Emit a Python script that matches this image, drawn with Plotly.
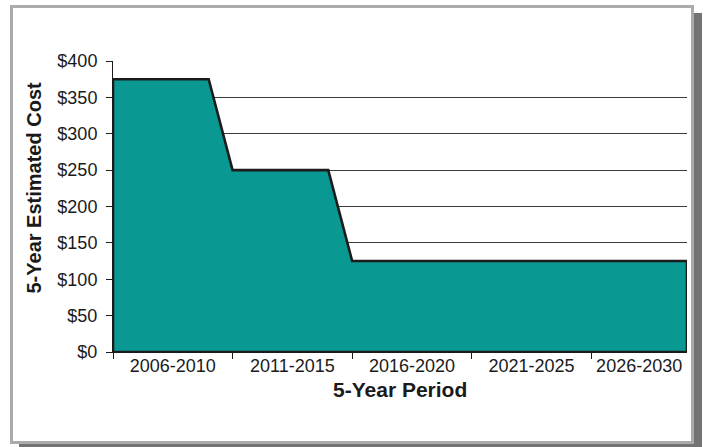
import plotly.graph_objects as go

# ---- data ----
years = list(range(2006, 2031))
costs = [375, 375, 375, 375, 375,
         250, 250, 250, 250, 250,
         125, 125, 125, 125, 125,
         125, 125, 125, 125, 125,
         125, 125, 125, 125, 125]
period_labels = ["2006-2010", "2011-2015", "2016-2020", "2021-2025", "2026-2030"]
period_starts = [2006, 2011, 2016, 2021, 2026]
period_ends = [2010, 2015, 2020, 2025, 2030]
y_ticks = [0, 50, 100, 150, 200, 250, 300, 350, 400]

W, H = 704, 447
L, R, T, B = 113, 17, 61, 95
PW, PH = W - L - R, H - T - B


def px(x):
    return (x - L) / PW


def py(y):
    return (H - B - y) / PH


FONT = "Liberation Sans, Arial, sans-serif"

# closed polygon built from the data
poly_x = [years[0]] + years + [years[-1], years[0]]
poly_y = [0] + costs + [0, 0]

label_pos = []
for s, e in zip(period_starts, period_ends):
    end = min(e + 1, years[-1])
    label_pos.append((s + end) / 2)

fig = go.Figure()
fig.add_trace(go.Scatter(
    x=poly_x, y=poly_y, mode="lines", fill="toself",
    fillcolor="#0a9893",
    line=dict(color="#1c1c1c", width=2.6),
    hoverinfo="skip", showlegend=False,
))

fig.update_layout(
    width=W, height=H,
    margin=dict(l=L, r=R, t=T, b=B, pad=0),
    paper_bgcolor="white",
    plot_bgcolor="rgba(0,0,0,0)",
    font=dict(family=FONT, size=18, color="#1a1a1a"),
    showlegend=False,
    xaxis=dict(
        range=[years[0], years[-1]],
        tickmode="array", tickvals=label_pos, ticktext=period_labels,
        ticks="", showgrid=False, zeroline=False,
        showline=True, linecolor="#1a1a1a", linewidth=1,
        tickfont=dict(family=FONT, size=18, color="#1a1a1a"),
        ticklabelstandoff=-3,
        minor=dict(ticks="outside", tick0=period_starts[0], dtick=5,
                   ticklen=6, tickcolor="#1a1a1a", tickwidth=1, showgrid=False),
    ),
    yaxis=dict(
        range=[0, 400],
        tickmode="array", tickvals=y_ticks,
        ticktext=["$" + str(v) for v in y_ticks],
        ticks="outside", ticklen=6, tickcolor="#1a1a1a", tickwidth=1,
        showgrid=True, gridcolor="#3a3a3a", gridwidth=1,
        zeroline=False,
        showline=True, linecolor="#1a1a1a", linewidth=1,
        tickfont=dict(family=FONT, size=18, color="#1a1a1a"),
        ticklabelstandoff=5,
    ),
    shapes=[
        dict(type="rect", xref="paper", yref="paper", layer="below",
             x0=px(19), x1=px(702), y0=py(447), y1=py(13),
             fillcolor="#737373", line=dict(width=0)),
        dict(type="rect", xref="paper", yref="paper", layer="below",
             x0=px(11.5), x1=px(692.5), y0=py(442.5), y1=py(6.5),
             fillcolor="white", line=dict(color="#ababab", width=3)),
    ],
    annotations=[
        dict(text="<b>5-Year Estimated Cost</b>", xref="paper", yref="paper",
             x=px(33), y=py(187.5), showarrow=False, textangle=-90,
             xanchor="center", yanchor="middle",
             font=dict(family=FONT, size=20, color="#1a1a1a")),
        dict(text="<b>5-Year Period</b>", xref="paper", yref="paper",
             x=px(400), y=py(389), showarrow=False,
             xanchor="center", yanchor="middle",
             font=dict(family=FONT, size=21, color="#1a1a1a")),
    ],
)

fig.write_html(
    "out.html",
    config={"displayModeBar": False, "staticPlot": True},
    post_script="document.body.style.margin='0';document.body.style.overflow='hidden';",
)
